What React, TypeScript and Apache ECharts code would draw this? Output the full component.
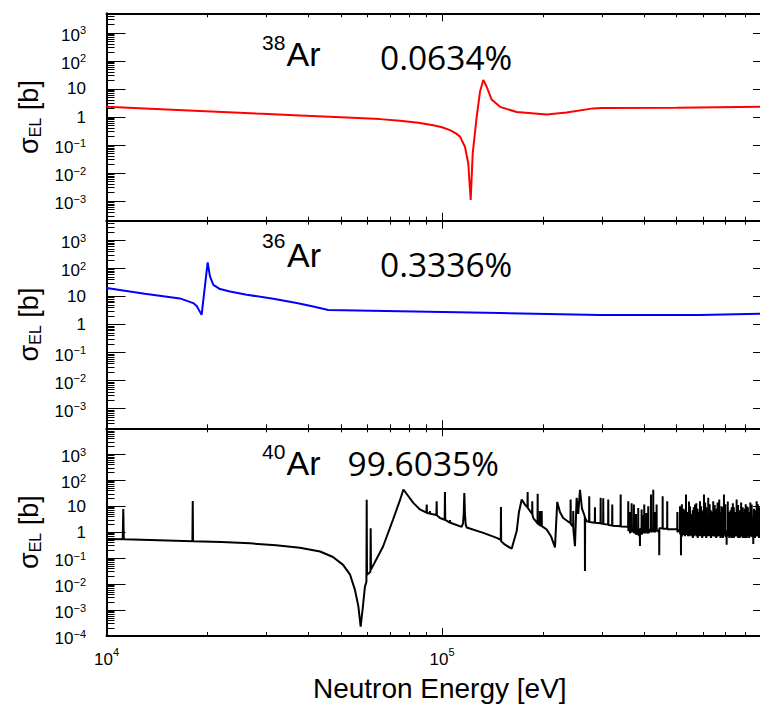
import React, { useEffect, useRef } from 'react';
import * as echarts from 'echarts';

const FONT = '"Liberation Sans", Arial, Helvetica, sans-serif';
const PCT_FONT = '"Open Sans", "Liberation Sans", sans-serif';

// ---------- axis ranges & ticks ----------
const xRange: [number, number] = [1e4, 8.86e5];
const xMajorTicks = [1e4, 1e5];
const xLabelTicks = [1e4, 1e5];
const xMinorTicks = [2e4, 3e4, 4e4, 5e4, 6e4, 7e4, 8e4, 9e4, 2e5, 3e5, 4e5, 5e5, 6e5, 7e5, 8e5];

const yRangeUpper: [number, number] = [2e-4, 5e3];
const yRangeLower: [number, number] = [1e-4, 1e4];
const yMajorUpper = [1e-3, 1e-2, 1e-1, 1, 10, 100, 1000];
const yMajorLower = [1e-4, 1e-3, 1e-2, 1e-1, 1, 10, 100, 1000];
const minorMantissas = [2, 3, 4, 5, 6, 7, 8, 9];
const minorDecades = [-4, -3, -2, -1, 0, 1, 2, 3];
const yMinorTicks = minorDecades.flatMap((d) => minorMantissas.map((m) => Number((m * Math.pow(10, d)).toPrecision(3))));

// ---------- data: [neutron energy eV, sigma_EL barn] ----------
const ar38: [number, number][] = [
  [1.0e4, 2.3], [1.3e4, 2.0], [1.9e4, 1.64], [2.8e4, 1.32], [3.77e4, 1.13], [5.0e4, 0.97],
  [6.53e4, 0.84], [7.49e4, 0.73], [8.5e4, 0.62], [9.41e4, 0.51], [1.0e5, 0.43], [1.056e5, 0.34],
  [1.1e5, 0.26], [1.131e5, 0.2], [1.17e5, 0.087], [1.197e5, 0.022], [1.217e5, 1.1e-3],
  [1.234e5, 0.05], [1.268e5, 1.0], [1.297e5, 7.9], [1.327e5, 21], [1.358e5, 12], [1.405e5, 4.2],
  [1.488e5, 2.3], [1.669e5, 1.5], [2.05e5, 1.24], [2.35e5, 1.46], [2.82e5, 2.03], [3.0e5, 2.1],
  [5.0e5, 2.15], [8.86e5, 2.3],
];

const ar36: [number, number][] = [
  [1.0e4, 20], [1.3e4, 12.5], [1.655e4, 8.5], [1.814e4, 5.8], [1.857e4, 4.6], [1.921e4, 2.2],
  [2.002e4, 163], [2.034e4, 52], [2.081e4, 26], [2.179e4, 18.3], [2.333e4, 15], [2.617e4, 11.5],
  [3.141e4, 8.3], [3.688e4, 5.8], [4.132e4, 4.4], [4.58e4, 3.3], [1.488e5, 2.55], [2.954e5, 2.2],
  [5.86e5, 2.2], [8.86e5, 2.4],
];

const ar40: [number, number][] = [
  [1.0e4, 0.54],
  [1.118e4, 0.53], [1.122e4, 7.7], [1.126e4, 0.53],
  [1.35e4, 0.5],
  [1.803e4, 0.45], [1.807e4, 16], [1.811e4, 0.45],
  [2.2e4, 0.42], [2.68e4, 0.37], [3.2e4, 0.31], [3.77e4, 0.25], [4.33e4, 0.18], [4.73e4, 0.11],
  [5.07e4, 0.055], [5.32e4, 0.023], [5.5e4, 6e-3], [5.63e4, 1.4e-3], [5.72e4, 2.3e-4],
  [5.81e4, 1.4e-3], [5.89e4, 8e-3],
  [5.95e4, 0.012], [5.962e4, 17.5], [5.975e4, 0.023],
  [6.115e4, 0.03], [6.127e4, 1.4], [6.14e4, 0.036],
  [6.67e4, 0.28], [7.14e4, 3.0], [7.49e4, 17], [7.67e4, 44], [8.21e4, 13.4], [8.59e4, 7.5],
  [8.98e4, 5.6], [9.0e4, 11.5], [9.015e4, 5.5],
  [9.19e4, 5.2], [9.204e4, 6.5], [9.22e4, 5.1],
  [9.62e4, 4.6], [9.636e4, 15.6], [9.65e4, 4.5],
  [9.86e4, 3.5],
  [1.018e5, 3.0], [1.02e5, 35], [1.022e5, 2.95],
  [1.054e5, 2.35], [1.056e5, 2.9], [1.058e5, 2.3],
  [1.144e5, 1.6], [1.155e5, 2.2], [1.16e5, 5], [1.165e5, 32], [1.17e5, 5], [1.176e5, 2.0],
  [1.184e5, 1.5], [1.327e5, 0.94], [1.455e5, 0.6],
  [1.496e5, 0.5], [1.498e5, 9.4], [1.5e5, 0.45],
  [1.54e5, 0.33], [1.612e5, 0.23], [1.669e5, 1.1], [1.695e5, 6], [1.727e5, 18], [1.766e5, 11.5],
  [1.797e5, 9], [1.799e5, 35], [1.801e5, 8.5],
  [1.855e5, 5], [1.857e5, 15.6], [1.859e5, 4.8],
  [1.87e5, 3.5],
  [1.925e5, 2.2], [1.927e5, 30], [1.929e5, 2.1],
  [1.955e5, 1.9], [1.957e5, 6.5], [1.959e5, 1.8],
  [1.979e5, 1.75], [1.981e5, 6.5], [1.983e5, 1.7],
  [2.05e5, 1.26], [2.111e5, 0.7], [2.17e5, 0.26], [2.204e5, 14.6], [2.245e5, 6], [2.296e5, 3.5],
  [2.413e5, 2.2], [2.416e5, 18], [2.419e5, 2.1],
  [2.457e5, 1.6], [2.46e5, 6.5], [2.463e5, 1.2],
  [2.489e5, 0.29], [2.518e5, 21], [2.545e5, 5], [2.576e5, 43], [2.612e5, 8],
  [2.663e5, 4], [2.666e5, 0.032], [2.669e5, 3.5],
  [2.697e5, 2.65],
  [2.742e5, 2.5], [2.745e5, 24], [2.748e5, 2.45],
  [2.852e5, 2.3], [2.855e5, 9.1], [2.858e5, 2.3],
  [2.966e5, 2.2], [2.969e5, 21], [2.972e5, 2.15],
  [3.019e5, 2.1], [3.022e5, 20], [3.025e5, 2.05],
  [3.125e5, 1.95], [3.128e5, 18], [3.131e5, 1.9],
  [3.212e5, 1.8], [3.215e5, 11.5], [3.218e5, 1.75],
  [3.403e5, 1.7], [3.406e5, 28], [3.409e5, 1.65],
  [3.585e5, 1.6], [3.588e5, 15.6], [3.591e5, 1.1],
  [3.62e5, 1.3], [3.625e5, 6], [3.63e5, 0.9],
  [3.669e5, 1.5], [3.672e5, 13], [3.675e5, 1.0],
  [3.727e5, 1.45], [3.73e5, 11.5], [3.733e5, 0.9],
  [3.78e5, 1.4], [3.783e5, 5], [3.786e5, 0.8],
  [3.839e5, 1.3], [3.842e5, 8.5], [3.845e5, 0.8],
  [3.885e5, 0.7], [3.888e5, 0.29], [3.891e5, 1.3],
  [3.93e5, 1.45], [3.933e5, 7.5], [3.936e5, 0.8],
  [3.97e5, 1.4], [3.973e5, 4.5], [3.976e5, 0.9],
  [4.001e5, 1.45], [4.004e5, 11.5], [4.007e5, 0.9],
  [4.06e5, 1.45], [4.063e5, 5.5], [4.066e5, 0.9],
  [4.112e5, 1.4], [4.115e5, 10], [4.118e5, 0.9],
  [4.19e5, 1.4], [4.193e5, 28], [4.196e5, 1.0],
  [4.256e5, 1.4], [4.259e5, 43], [4.262e5, 1.0],
  [4.31e5, 1.4], [4.313e5, 6], [4.316e5, 1.0],
  [4.356e5, 1.4], [4.359e5, 11.5], [4.362e5, 1.2],
  [4.435e5, 1.0], [4.438e5, 0.13], [4.441e5, 1.4],
  [4.54e5, 1.4], [4.543e5, 24], [4.546e5, 1.35],
  [4.685e5, 1.35], [4.688e5, 15.6], [4.691e5, 1.3],
  [4.9e5, 1.3],
  [5.02e5, 1.3], [5.025e5, 6], [5.03e5, 1.0],
  [5.114e5, 1.3], [5.117e5, 10], [5.12e5, 0.9],
  [5.149e5, 0.8], [5.152e5, 0.13], [5.155e5, 1.3],
  [5.18e5, 1.25], [5.183e5, 12], [5.186e5, 0.7],
  [5.24e5, 1.3], [5.243e5, 8], [5.246e5, 0.8],
  [5.29e5, 1.25], [5.293e5, 7], [5.296e5, 0.7],
  [5.329e5, 1.25], [5.332e5, 28], [5.335e5, 0.8],
  [5.4e5, 1.25], [5.403e5, 6], [5.406e5, 0.7],
  [5.44e5, 1.2], [5.443e5, 15], [5.446e5, 0.7],
  [5.477e5, 1.2], [5.48e5, 10], [5.483e5, 0.8],
  [5.53e5, 1.2], [5.533e5, 5], [5.536e5, 0.7],
  [5.58e5, 1.2], [5.583e5, 7], [5.586e5, 0.6],
  [5.62e5, 1.2], [5.623e5, 9], [5.626e5, 0.7],
  [5.668e5, 1.2], [5.671e5, 11.5], [5.674e5, 0.8],
  [5.72e5, 1.2], [5.723e5, 13], [5.726e5, 0.7],
  [5.77e5, 1.2], [5.773e5, 8], [5.776e5, 0.6],
  [5.82e5, 1.15], [5.823e5, 6], [5.826e5, 0.7],
  [5.866e5, 1.15], [5.869e5, 15.6], [5.872e5, 0.8],
  [5.91e5, 1.15], [5.913e5, 10], [5.916e5, 0.7],
  [5.95e5, 1.15], [5.953e5, 6], [5.956e5, 0.6],
  [6.0e5, 1.15], [6.003e5, 7], [6.006e5, 0.7],
  [6.029e5, 1.15], [6.032e5, 28], [6.035e5, 0.8],
  [6.08e5, 1.1], [6.083e5, 14], [6.086e5, 0.7],
  [6.12e5, 1.1], [6.123e5, 9], [6.126e5, 0.6],
  [6.17e5, 1.1], [6.173e5, 5], [6.176e5, 0.7],
  [6.209e5, 1.1], [6.212e5, 21], [6.215e5, 0.75],
  [6.27e5, 1.1], [6.273e5, 12], [6.276e5, 0.7],
  [6.32e5, 1.1], [6.323e5, 7], [6.326e5, 0.6],
  [6.38e5, 1.1], [6.383e5, 6], [6.386e5, 0.7],
  [6.426e5, 1.1], [6.429e5, 15.6], [6.432e5, 0.7],
  [6.49e5, 1.1], [6.493e5, 11], [6.496e5, 0.7],
  [6.55e5, 1.1], [6.553e5, 8], [6.556e5, 0.6],
  [6.62e5, 1.1], [6.623e5, 14], [6.626e5, 0.7],
  [6.696e5, 1.1], [6.699e5, 18], [6.702e5, 0.7],
  [6.75e5, 1.1], [6.753e5, 6], [6.756e5, 0.6],
  [6.8e5, 1.1], [6.803e5, 10], [6.806e5, 0.7],
  [6.86e5, 1.1], [6.863e5, 9], [6.866e5, 0.6],
  [6.915e5, 1.1], [6.918e5, 28], [6.921e5, 0.8],
  [6.98e5, 1.1], [6.983e5, 12], [6.986e5, 0.7],
  [7.044e5, 0.7], [7.047e5, 0.33], [7.05e5, 1.1],
  [7.1e5, 1.1], [7.103e5, 15], [7.106e5, 0.7],
  [7.17e5, 1.1], [7.173e5, 6], [7.176e5, 0.6],
  [7.23e5, 1.1], [7.233e5, 7], [7.236e5, 0.7],
  [7.291e5, 1.1], [7.294e5, 9], [7.297e5, 0.6],
  [7.35e5, 1.1], [7.353e5, 13], [7.356e5, 0.7],
  [7.4e5, 1.1], [7.403e5, 9], [7.406e5, 0.6],
  [7.47e5, 1.1], [7.473e5, 6], [7.476e5, 0.7],
  [7.545e5, 1.1], [7.548e5, 18], [7.551e5, 0.7],
  [7.62e5, 1.1], [7.623e5, 11], [7.626e5, 0.6],
  [7.7e5, 1.1], [7.703e5, 7], [7.706e5, 0.6],
  [7.78e5, 1.1], [7.783e5, 14], [7.786e5, 0.7],
  [7.864e5, 1.1], [7.867e5, 9], [7.87e5, 0.6],
  [7.92e5, 1.1], [7.923e5, 6], [7.926e5, 0.7],
  [7.98e5, 1.1], [7.983e5, 8], [7.986e5, 0.6],
  [8.03e5, 1.1], [8.033e5, 12], [8.036e5, 0.7],
  [8.083e5, 1.1], [8.086e5, 10], [8.089e5, 0.6],
  [8.15e5, 1.1], [8.153e5, 9], [8.156e5, 0.7],
  [8.22e5, 1.1], [8.223e5, 6], [8.226e5, 0.6],
  [8.29e5, 1.1], [8.293e5, 14], [8.296e5, 0.7],
  [8.365e5, 1.1], [8.368e5, 11.5], [8.371e5, 0.7],
  [8.458e5, 0.7], [8.461e5, 0.35], [8.464e5, 1.1],
  [8.5e5, 1.1], [8.503e5, 8], [8.506e5, 0.7],
  [8.55e5, 1.1], [8.553e5, 7], [8.556e5, 0.6],
  [8.61e5, 1.1], [8.613e5, 6], [8.616e5, 0.7],
  [8.656e5, 1.1], [8.659e5, 15.6], [8.662e5, 0.7],
  [8.73e5, 1.1], [8.733e5, 12], [8.736e5, 0.7],
  [8.8e5, 1.1], [8.803e5, 9], [8.806e5, 0.6],
  [8.84e5, 1.1], [8.843e5, 9], [8.846e5, 0.7],
  [8.86e5, 1.1],
];

const isotopeMasses = ['38', '36', '40'];
const abundances = ['0.0634%', '0.3336%', '99.6035%'];
const seriesNames = ['38Ar', '36Ar', '40Ar'];
const panelData = [ar38, ar36, ar40];
const panelColors = ['#ff0000', '#0000ff', '#000000'];
const panelRanges = [yRangeUpper, yRangeUpper, yRangeLower];
const panelMajors = [yMajorUpper, yMajorUpper, yMajorLower];

// ---------- layout ----------
const LEFT = 106.5;
const WIDTH = 653.5;
const TOPS = [13.3, 220.7, 428.3];
const HEIGHTS = [207.4, 207.6, 207.7];
const supPos = [[262, 42.5], [262, 240.5], [262, 451.5]];
const arPos = [[286.5, 54], [287, 255], [286.5, 462.5]];
const pctPos = [[380, 56.5], [380, 263.5], [347.5, 463.3]];

const tickLine = { color: '#000', width: 1 };
const frameLine = { show: true, onZero: false, lineStyle: { color: '#000', width: 2 } };
const noLine = { show: false, onZero: false };

const yRich = {
  p: { fontSize: 17, fontFamily: FONT, color: '#000', lineHeight: 22 },
  b: { fontSize: 17, fontFamily: FONT, color: '#000', lineHeight: 22, verticalAlign: 'bottom' },
  e: { fontSize: 11, fontFamily: FONT, color: '#000', verticalAlign: 'top', padding: [3, 0, 0, 0] },
};
const xRich = {
  p: { fontSize: 17, fontFamily: FONT, color: '#000', lineHeight: 22 },
  b: { fontSize: 17, fontFamily: FONT, color: '#000', lineHeight: 22, verticalAlign: 'bottom' },
  e: { fontSize: 11, fontFamily: FONT, color: '#000', verticalAlign: 'top' },
};

function powLabel(v: number): string {
  const e = Math.round(Math.log10(v));
  if (e === 0) return '{p|1}';
  if (e === 1) return '{p|10}';
  return `{b|10}{e|${e < 0 ? '\u2212' + -e : e}}`;
}

function buildOption() {
  const grid = TOPS.map((t, i) => ({
    left: LEFT, top: t, width: WIDTH, height: HEIGHTS[i],
    show: false, outerBoundsMode: 'none',
  }));

  const xAxis: any[] = [];
  const yAxis: any[] = [];
  for (let i = 0; i < 3; i++) {
    const xb = {
      type: 'log', gridIndex: i, min: xRange[0], max: xRange[1],
      splitLine: { show: false },
    };
    const majorBottom: any = {
      ...xb, position: 'bottom', axisLine: frameLine,
      axisTick: { show: true, inside: true, length: 8, customValues: xMajorTicks, lineStyle: tickLine },
      axisLabel: i === 2
        ? { show: true, customValues: xLabelTicks, formatter: powLabel, rich: xRich, margin: 10, color: '#000' }
        : { show: false },
    };
    if (i === 2) {
      majorBottom.name = 'Neutron Energy [eV]';
      majorBottom.nameLocation = 'middle';
      majorBottom.nameGap = 38;
      majorBottom.nameTextStyle = { fontSize: 28, fontFamily: FONT, color: '#000', padding: [0, 0, 0, 13] };
    }
    xAxis.push(majorBottom);
    xAxis.push({ ...xb, position: 'bottom', axisLine: noLine, axisTick: { show: true, inside: true, length: 4, customValues: xMinorTicks, lineStyle: tickLine }, axisLabel: { show: false } });
    xAxis.push({ ...xb, position: 'top', axisLine: frameLine, axisTick: { show: true, inside: true, length: 8, customValues: xMajorTicks, lineStyle: tickLine }, axisLabel: { show: false } });
    xAxis.push({ ...xb, position: 'top', axisLine: noLine, axisTick: { show: true, inside: true, length: 4, customValues: xMinorTicks, lineStyle: tickLine }, axisLabel: { show: false } });

    const yb = {
      type: 'log', gridIndex: i, min: panelRanges[i][0], max: panelRanges[i][1],
      splitLine: { show: false },
    };
    yAxis.push({
      ...yb, position: 'left', axisLine: frameLine,
      axisTick: { show: true, inside: true, length: 19, customValues: panelMajors[i], lineStyle: tickLine },
      axisLabel: { show: true, customValues: panelMajors[i], formatter: powLabel, rich: yRich, margin: 20.5, color: '#000' },
      name: '{s|\u03c3}{sub|EL}{s| [b]}',
      nameLocation: 'middle', nameRotate: 90, nameGap: 60,
      nameTextStyle: {
        color: '#000',
        rich: {
          s: { fontSize: 27, fontFamily: FONT, color: '#000', lineHeight: 30 },
          sub: { fontSize: 16, fontFamily: FONT, color: '#000', verticalAlign: 'bottom' },
        },
      },
    });
    yAxis.push({ ...yb, position: 'left', axisLine: noLine, axisTick: { show: true, inside: true, length: 8, customValues: yMinorTicks, lineStyle: tickLine }, axisLabel: { show: false } });
    // the right frame lies just outside the picture: only the tips of its major ticks show,
    // drawn by a left axis moved across to the right edge
    yAxis.push({ ...yb, position: 'left', offset: -WIDTH, axisLine: noLine, axisTick: { show: true, inside: false, length: 7, customValues: panelMajors[i], lineStyle: tickLine }, axisLabel: { show: false } });
  }

  const series = panelData.map((d, i) => ({
    name: seriesNames[i],
    type: 'line', xAxisIndex: 4 * i, yAxisIndex: 3 * i,
    data: d, showSymbol: false, symbol: 'none', silent: true, clip: true,
    lineStyle: { color: panelColors[i], width: 2 }, itemStyle: { color: panelColors[i] },
  }));

  const elements: any[] = [];
  for (let i = 0; i < 3; i++) {
    elements.push({
      type: 'text', x: supPos[i][0], y: supPos[i][1], silent: true,
      style: { text: isotopeMasses[i], fontSize: 21, fontFamily: FONT, fill: '#000', align: 'left', verticalAlign: 'middle' },
    });
    elements.push({
      type: 'text', x: arPos[i][0], y: arPos[i][1], silent: true,
      style: { text: 'Ar', fontSize: 34, fontFamily: FONT, fill: '#000', align: 'left', verticalAlign: 'middle' },
    });
    elements.push({
      type: 'text', x: pctPos[i][0], y: pctPos[i][1], silent: true,
      style: { text: abundances[i], fontSize: 33.5, fontFamily: PCT_FONT, fill: '#000', align: 'left', verticalAlign: 'middle' },
    });
  }

  return {
    animation: false,
    textStyle: { fontFamily: FONT, color: '#000' },
    grid, xAxis, yAxis, series,
    graphic: { elements },
  };
}

export default function App() {
  const ref = useRef<HTMLDivElement>(null);
  useEffect(() => {
    document.body.style.margin = '0';
    const chart = echarts.init(ref.current!, null, { renderer: 'svg', width: 760, height: 708 });
    chart.setOption(buildOption() as any);
    return () => chart.dispose();
  }, []);
  return <div ref={ref} style={{ width: 760, height: 708 }} />;
}
